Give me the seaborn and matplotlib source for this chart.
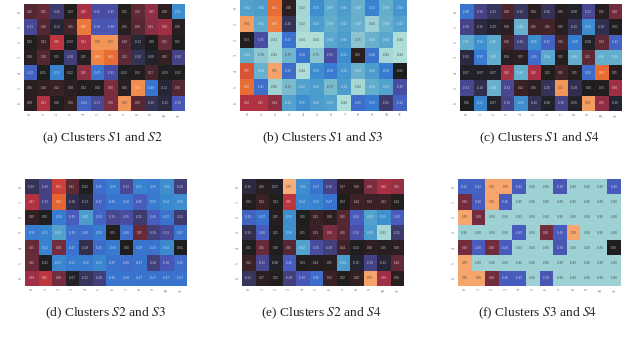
import matplotlib
matplotlib.use("Agg")
import matplotlib.pyplot as plt
import seaborn as sns
import numpy as np

# Cell values (7 rows, 12 columns)
s1_s2 = [
    [.20, .25, -.25, .03, .40, -.35, -.35, .02, .22, .35, .08, -.55],
    [-.33, .20, -.12, .15, .65, -.38, -.38, .05, .20, .33, .38, .06],
    [.02, .12, .45, -.03, .42, .72, .72, .20, -.12, .00, .25, .01],
    [.06, .20, .01, -.28, .05, .68, .62, .22, -.20, -.08, .10, -.30],
    [-.42, -.01, -.52, -.02, .35, -.47, -.35, -.02, .03, .17, -.03, -.02],
    [.06, .10, .12, .08, .02, .04, .30, .06, .70, -.48, -.12, .20],
    [.08, .42, .04, .10, -.42, -.33, .30, .72, .20, -.20, -.15, -.38],
]
s1_s3 = [
    [-.62, -.60, .62, .08, -.82, -.55, -.65, -.60, -.68, -.52, -.66, -.58],
    [.74, -.65, .66, -.20, -.82, -.60, -.66, -.62, -.68, -.80, -.68, -.62],
    [.03, -.35, -.82, -.47, -.84, -.84, -.64, -.60, -.75, -.68, -.64, -.84],
    [-.66, -.76, -.82, -.70, -.48, -.75, -.35, -.55, .06, -.48, -.82, -.84],
    [.55, -.68, .75, -.45, -.84, -.55, -.50, -.58, -.68, -.60, -.50, -.01],
    [.62, -.45, -.80, -.72, -.62, -.60, -.72, -.60, -.82, -.66, -.62, -.35],
    [.42, .42, .34, -.62, -.55, -.60, -.62, -.84, -.45, -.50, -.25, -.42],
]
s1_s4 = [
    [-.48, -.30, -.22, .18, -.22, .06, -.20, .05, -.08, -.32, .05, .28],
    [-.30, -.15, -.10, .08, -.68, .15, .15, .05, -.20, -.55, -.18, -.01],
    [-.65, -.56, -.65, .16, -.28, -.55, -.42, .16, -.50, -.08, .22, -.42],
    [-.15, -.50, -.66, .06, .07, -.45, -.64, .05, -.66, .22, -.66, -.66],
    [-.07, -.07, -.07, .40, -.66, .40, .02, .15, .05, -.45, .62, .05],
    [-.32, -.18, -.68, -.32, .12, .06, -.20, .72, -.18, .00, .03, .38],
    [.00, -.52, -.07, -.30, -.55, -.20, -.08, -.30, -.08, .74, .35, -.10],
]
s2_s3 = [
    [-.20, -.30, .50, .22, -.02, -.45, -.50, -.32, -.52, -.50, -.55, -.28],
    [.42, -.30, .60, -.18, -.13, -.42, -.48, -.48, -.40, -.50, -.54, -.55],
    [.10, .00, -.50, -.40, -.60, -.43, -.32, -.35, -.25, -.40, -.47, -.25],
    [-.50, -.52, -.62, -.46, -.46, -.50, .03, -.46, .25, -.28, -.33, -.47],
    [.25, -.52, .28, -.47, -.18, -.45, -.50, .00, -.48, -.47, -.54, -.01],
    [.25, -.02, -.53, -.50, -.50, -.53, -.47, -.46, -.47, -.28, -.38, -.45],
    [.38, .45, .28, -.07, -.22, -.28, -.48, -.48, -.47, -.47, -.47, -.47],
]
s2_s4 = [
    [-.15, .06, -.07, .78, -.55, -.47, -.30, .07, .08, .30, .40, .36],
    [.03, .12, .02, .45, -.54, -.52, -.47, .03, .14, .12, .12, .04],
    [-.42, -.47, .05, -.55, .00, .12, .08, .20, -.40, -.62, -.56, -.40],
    [-.18, -.40, .01, -.56, .01, .13, .30, .20, -.36, -.60, -.82, -.25],
    [.01, .25, .00, .20, -.62, -.35, -.28, .14, -.02, .08, .05, .08],
    [.12, -.32, -.08, -.40, .03, .04, .05, -.60, -.10, -.30, -.12, .24],
    [-.22, .07, .02, -.28, -.38, -.45, .12, .02, .10, .75, .38, .06],
]
s3_s4 = [
    [-.42, -.42, .76, .76, -.40, -.80, -.80, -.38, -.80, -.80, -.80, -.40],
    [.28, -.40, .76, -.40, -.80, -.80, -.80, -.80, -.80, -.80, -.80, -.80],
    [.76, .28, -.80, -.80, -.80, -.80, -.80, -.80, -.80, -.80, -.80, -.80],
    [-.80, -.80, -.80, -.80, -.40, -.80, .28, -.40, .76, -.80, -.80, -.80],
    [.28, -.40, .28, -.40, -.80, -.80, -.80, -.38, -.80, -.80, -.80, .00],
    [.76, -.80, -.80, -.80, -.80, -.80, -.80, -.80, -.80, -.80, -.80, -.80],
    [.76, .76, .28, -.40, -.40, -.80, -.38, -.80, -.80, -.80, -.80, -.80],
]
panels = [s1_s2, s1_s3, s1_s4, s2_s3, s2_s4, s3_s4]
captions = [
    "(a) Clusters $S1$ and $S2$",
    "(b) Clusters $S1$ and $S3$",
    "(c) Clusters $S1$ and $S4$",
    "(d) Clusters $S2$ and $S3$",
    "(e) Clusters $S2$ and $S4$",
    "(f) Clusters $S3$ and $S4$",
]
x_labels = [str(i) for i in range(12)]
y_labels = [str(i) for i in range(7)]

# left, top, right, bottom of each heatmap in pixels
boxes = [
    (23.5, 4, 185, 111),
    (240, 0, 407, 111),
    (460, 4, 622, 111),
    (25, 179, 187, 286),
    (242, 179, 404, 286),
    (458, 179, 621, 286),
]
caption_pos = [(103, 138), (322, 138), (539, 138), (105, 313), (321, 313), (538, 313)]

W, H = 640, 338
plt.rcParams['font.family'] = ['Liberation Serif']
plt.rcParams['mathtext.fontset'] = 'stix'

fig = plt.figure(figsize=(W / 100, H / 100), dpi=100)
for data, caption, box, pos in zip(panels, captions, boxes, caption_pos):
    l, t, r, b = box
    ax = fig.add_axes([l / W, 1 - b / H, (r - l) / W, (b - t) / H])
    sns.heatmap(np.array(data), ax=ax, cmap="icefire", vmin=-.88, vmax=.88, cbar=False,
                annot=True, fmt=".2f",
                annot_kws={"fontsize": 2.0, "family": "DejaVu Sans", "alpha": 0.75},
                xticklabels=x_labels, yticklabels=y_labels)
    ax.tick_params(length=0, labelsize=2.8, pad=1.5, colors="#666666")
    plt.setp(ax.get_yticklabels(), rotation=90, va="center")
    fig.text(pos[0] / W, 1 - pos[1] / H, caption, fontsize=9.7, ha="center", va="center",
             color="#222222")

fig.savefig("out.png", dpi=100)
